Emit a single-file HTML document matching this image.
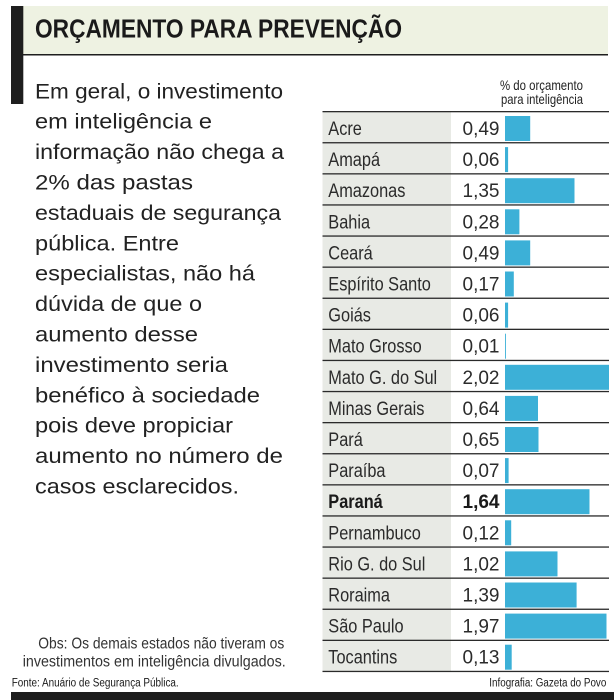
<!DOCTYPE html>
<html>
<head>
<meta charset="utf-8">
<style>
html,body{margin:0;padding:0;background:#fff;}
svg{display:block;}
text{font-family:"Liberation Sans",sans-serif;}
</style>
</head>
<body>
<svg width="614" height="700" viewBox="0 0 614 700" xmlns="http://www.w3.org/2000/svg">
  <!-- title band -->
  <rect x="23" y="6" width="585" height="48.5" fill="#eef2e2"/>
  <rect x="23" y="54" width="585" height="1.5" fill="#1e1e1e"/>
  <rect x="11" y="6" width="12.3" height="98" fill="#1e1e1e"/>
  <text x="35" y="37.5" font-size="25.5" font-weight="bold" fill="#1a1a1a" textLength="367" lengthAdjust="spacingAndGlyphs">ORÇAMENTO PARA PREVENÇÃO</text>

  <!-- body text -->
  <g font-size="21.5" fill="#222">
    <text x="35" y="98.3" textLength="248" lengthAdjust="spacingAndGlyphs">Em geral, o investimento</text>
    <text x="35" y="128.7" textLength="177" lengthAdjust="spacingAndGlyphs">em inteligência e</text>
    <text x="35" y="159.1" textLength="249" lengthAdjust="spacingAndGlyphs">informação não chega a</text>
    <text x="35" y="189.5" textLength="158" lengthAdjust="spacingAndGlyphs">2% das pastas</text>
    <text x="35" y="219.9" textLength="246" lengthAdjust="spacingAndGlyphs">estaduais de segurança</text>
    <text x="35" y="250.3" textLength="144" lengthAdjust="spacingAndGlyphs">pública. Entre</text>
    <text x="35" y="280.7" textLength="220" lengthAdjust="spacingAndGlyphs">especialistas, não há</text>
    <text x="35" y="311.1" textLength="167" lengthAdjust="spacingAndGlyphs">dúvida de que o</text>
    <text x="35" y="341.5" textLength="163" lengthAdjust="spacingAndGlyphs">aumento desse</text>
    <text x="35" y="371.9" textLength="193" lengthAdjust="spacingAndGlyphs">investimento seria</text>
    <text x="35" y="402.3" textLength="225" lengthAdjust="spacingAndGlyphs">benéfico à sociedade</text>
    <text x="35" y="432.7" textLength="198" lengthAdjust="spacingAndGlyphs">pois deve propiciar</text>
    <text x="35" y="463.1" textLength="248" lengthAdjust="spacingAndGlyphs">aumento no número de</text>
    <text x="35" y="493.5" textLength="204" lengthAdjust="spacingAndGlyphs">casos esclarecidos.</text>
  </g>

  <!-- header -->
  <g font-size="14" fill="#222">
    <text x="500" y="90" textLength="83" lengthAdjust="spacingAndGlyphs">% do orçamento</text>
    <text x="501" y="104" textLength="82" lengthAdjust="spacingAndGlyphs">para inteligência</text>
  </g>

  <!-- table -->
  <rect x="322.5" y="111.5" width="128.5" height="560" fill="#e8eae5"/>
  <g fill="#3cb0d7">
    <rect x="505" y="116.0" width="25.2" height="25"/>
    <rect x="505" y="147.1" width="3.1" height="25"/>
    <rect x="505" y="178.2" width="69.5" height="25"/>
    <rect x="505" y="209.3" width="14.4" height="25"/>
    <rect x="505" y="240.4" width="25.2" height="25"/>
    <rect x="505" y="271.5" width="8.8" height="25"/>
    <rect x="505" y="302.6" width="3.1" height="25"/>
    <rect x="505" y="333.7" width="0.9" height="25"/>
    <rect x="505" y="364.8" width="104" height="25"/>
    <rect x="505" y="395.9" width="33" height="25"/>
    <rect x="505" y="427.0" width="33.5" height="25"/>
    <rect x="505" y="458.1" width="3.6" height="25"/>
    <rect x="505" y="489.2" width="84.5" height="25"/>
    <rect x="505" y="520.3" width="6.2" height="25"/>
    <rect x="505" y="551.4" width="52.5" height="25"/>
    <rect x="505" y="582.5" width="71.6" height="25"/>
    <rect x="505" y="613.6" width="101.5" height="25"/>
    <rect x="505" y="644.7" width="6.7" height="25"/>
  </g>
  <g fill="#2a2a2a">
    <rect x="322.5" y="111" width="286.5" height="1.3"/>
    <rect x="322.5" y="142.1" width="286.5" height="1.3"/>
    <rect x="322.5" y="173.2" width="286.5" height="1.3"/>
    <rect x="322.5" y="204.3" width="286.5" height="1.3"/>
    <rect x="322.5" y="235.4" width="286.5" height="1.3"/>
    <rect x="322.5" y="266.5" width="286.5" height="1.3"/>
    <rect x="322.5" y="297.6" width="286.5" height="1.3"/>
    <rect x="322.5" y="328.7" width="286.5" height="1.3"/>
    <rect x="322.5" y="359.8" width="286.5" height="1.3"/>
    <rect x="322.5" y="390.9" width="286.5" height="1.3"/>
    <rect x="322.5" y="422.0" width="286.5" height="1.3"/>
    <rect x="322.5" y="453.1" width="286.5" height="1.3"/>
    <rect x="322.5" y="484.2" width="286.5" height="1.3"/>
    <rect x="322.5" y="515.3" width="286.5" height="1.3"/>
    <rect x="322.5" y="546.4" width="286.5" height="1.3"/>
    <rect x="322.5" y="577.5" width="286.5" height="1.3"/>
    <rect x="322.5" y="608.6" width="286.5" height="1.3"/>
    <rect x="322.5" y="639.7" width="286.5" height="1.3"/>
    <rect x="322.5" y="670.8" width="286.5" height="1.3"/>
  </g>

  <!-- names -->
  <g transform="translate(328.3,0) scale(0.86,1)" font-size="19" fill="#2b2b2b">
    <text x="0" y="135.0">Acre</text>
    <text x="0" y="166.1">Amapá</text>
    <text x="0" y="197.2">Amazonas</text>
    <text x="0" y="228.3">Bahia</text>
    <text x="0" y="259.4">Ceará</text>
    <text x="0" y="290.5">Espírito Santo</text>
    <text x="0" y="321.6">Goiás</text>
    <text x="0" y="352.7">Mato Grosso</text>
    <text x="0" y="383.8">Mato G. do Sul</text>
    <text x="0" y="414.9">Minas Gerais</text>
    <text x="0" y="446.0">Pará</text>
    <text x="0" y="477.1">Paraíba</text>
    <text x="0" y="508.2" font-weight="bold" fill="#1a1a1a">Paraná</text>
    <text x="0" y="539.3">Pernambuco</text>
    <text x="0" y="570.4">Rio G. do Sul</text>
    <text x="0" y="601.5">Roraima</text>
    <text x="0" y="632.6">São Paulo</text>
    <text x="0" y="663.7">Tocantins</text>
  </g>

  <!-- values -->
  <g font-size="19" fill="#2b2b2b" text-anchor="end">
    <text x="499.5" y="135.0">0,49</text>
    <text x="499.5" y="166.1">0,06</text>
    <text x="499.5" y="197.2">1,35</text>
    <text x="499.5" y="228.3">0,28</text>
    <text x="499.5" y="259.4">0,49</text>
    <text x="499.5" y="290.5">0,17</text>
    <text x="499.5" y="321.6">0,06</text>
    <text x="499.5" y="352.7">0,01</text>
    <text x="499.5" y="383.8">2,02</text>
    <text x="499.5" y="414.9">0,64</text>
    <text x="499.5" y="446.0">0,65</text>
    <text x="499.5" y="477.1">0,07</text>
    <text x="499.5" y="508.2" font-weight="bold" fill="#1a1a1a">1,64</text>
    <text x="499.5" y="539.3">0,12</text>
    <text x="499.5" y="570.4">1,02</text>
    <text x="499.5" y="601.5">1,39</text>
    <text x="499.5" y="632.6">1,97</text>
    <text x="499.5" y="663.7">0,13</text>
  </g>

  <!-- obs -->
  <g font-size="15.5" fill="#333">
    <text x="38.3" y="648.3" textLength="246" lengthAdjust="spacingAndGlyphs">Obs: Os demais estados não tiveram os</text>
    <text x="22.7" y="666.7" textLength="263" lengthAdjust="spacingAndGlyphs">investimentos em inteligência divulgados.</text>
  </g>

  <!-- footer -->
  <g font-size="11.5" fill="#1a1a1a">
    <text x="11.7" y="686.5" textLength="167" lengthAdjust="spacingAndGlyphs">Fonte: Anuário de Segurança Pública.</text>
    <text x="489.3" y="686.5" textLength="117" lengthAdjust="spacingAndGlyphs">Infografia: Gazeta do Povo</text>
  </g>
  <rect x="11" y="692" width="603" height="8" fill="#1e1e1e"/>
</svg>
</body>
</html>
